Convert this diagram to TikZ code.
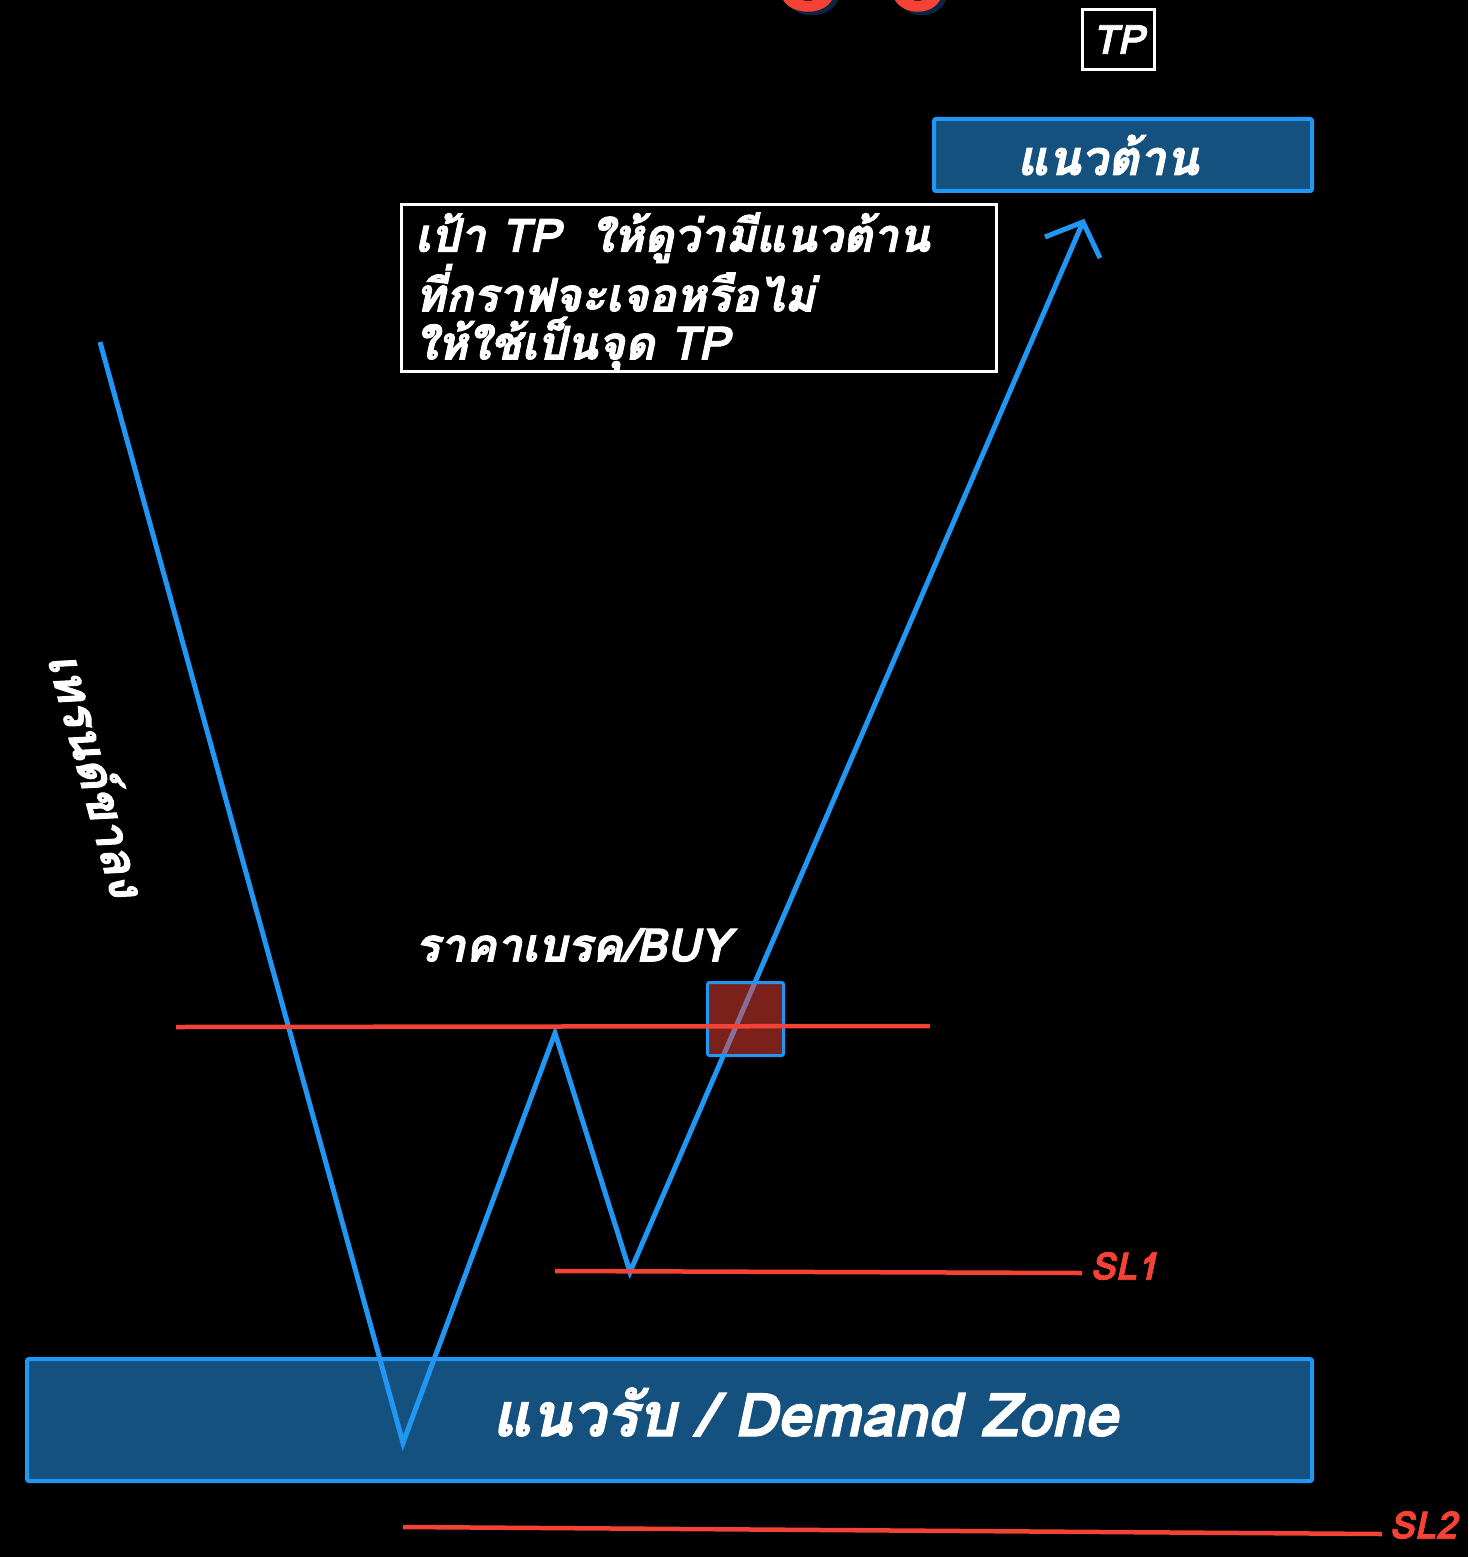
\documentclass[tikz,border=0pt]{standalone}
\usepackage{fontspec}
\newfontfamily\thaifont[Script=Thai, BoldFont={Loma Bold}, BoldItalicFont={Loma Bold Oblique}, ItalicFont={Loma Oblique}, BoldItalicFeatures={FakeBold=2}]{Loma}
\definecolor{bline}{HTML}{2196F3}
\definecolor{zonefill}{HTML}{14517F}
\definecolor{rline}{HTML}{F44336}
\definecolor{shadowblue}{HTML}{0B2545}
\tikzset{
  thtext/.style={text=white, inner sep=0pt, font=\thaifont\bfseries\itshape\fontsize{#1}{#1}\selectfont},
  thtext/.default=44,
  zonebox/.style={draw=bline, fill=zonefill, line width=4pt, rounded corners=2pt},
  priceline/.style={draw=bline, line width=5pt, line join=miter},
  levelline/.style={draw=rline, line width=4.5pt},
  sltext/.style={text=rline, inner sep=0pt, font=\thaifont\bfseries\itshape\fontsize{38}{40}\selectfont},
  wbox/.style={draw=white, line width=3pt, fill=black},
  fragshadow/.style={draw=shadowblue, line width=11pt, line cap=round},
  fragred/.style={draw=rline, line width=11pt, line cap=round},
}
\begin{document}
\begin{tikzpicture}[x=1pt,y=-1pt]
\useasboundingbox (0,0) rectangle (1468,1557);
\fill[black] (0,0) rectangle (1468,1557);

% cut-off title fragments at the very top (descenders of letters above the picture)
\begin{scope}
\clip (0,0) rectangle (1468,1557);
\draw[fragshadow] (790,-6) .. controls (792,14) and (830,16) .. (834,-6);
\draw[fragred] (786,-8) .. controls (788,10) and (826,12) .. (829,-8);
\draw[fragshadow] (902,-6) .. controls (904,14) and (938,16) .. (942,-6);
\draw[fragred] (898,-8) .. controls (900,10) and (934,12) .. (937,-8);
\end{scope}

% TP box
\node[wbox, minimum width=72pt, minimum height=60pt, inner sep=0pt, anchor=north west] (tpbox) at (1081,8) {};
\node[thtext=40] (tplabel) at (tpbox.center) {TP};

% resistance zone
\node[zonebox, minimum width=378pt, minimum height=72pt, inner sep=0pt, anchor=north west] (resist) at (932,117) {};
\node[thtext=48] (resistlabel) at (1108,155) {แนวต้าน};

% note box
\node[wbox, minimum width=595pt, minimum height=167pt, inner sep=0pt, anchor=north west] (note) at (400,203) {};
\node[text=white, inner sep=0pt, font=\thaifont\bfseries\itshape\fontsize{46}{48}\selectfont, align=left, anchor=west] (notetext) at (415,292) {เป้า TP\ \ ให้ดูว่ามีแนวต้าน\\ที่กราฟจะเจอหรือไม่\\ให้ใช้เป็นจุด TP};

% demand zone
\node[zonebox, minimum width=1285pt, minimum height=122pt, inner sep=0pt, anchor=north west] (demand) at (25,1357) {};
\node[thtext=60] (demandlabel) at (805,1412) {แนวรับ / Demand Zone};

% price path
\coordinate (p0) at (100,342);
\coordinate (p1) at (403,1443);
\coordinate (p2) at (555,1033);
\coordinate (p3) at (630,1272);
\coordinate (p4) at (1083,222);
\coordinate (a1) at (1045,237);
\coordinate (a2) at (1100,258);
\draw[priceline] (p0) -- (p1) -- (p2) -- (p3) -- (p4);
\draw[priceline] (a1) -- (p4) -- (a2);

% breakout box
\node[draw=bline, fill=rline, fill opacity=0.5, line width=3pt, rounded corners=2pt, minimum width=76pt, minimum height=73pt, inner sep=0pt, anchor=north west] (breakbox) at (706,981) {};

% level lines
\coordinate (l1a) at (176,1027);
\coordinate (l1b) at (930,1026);
\draw[levelline] (l1a) -- (l1b);
\coordinate (sl1a) at (555,1271);
\coordinate (sl1b) at (1082,1273);
\draw[levelline] (sl1a) -- (sl1b);
\node[sltext, anchor=west] (sl1) at (1090,1266) {SL1};
\coordinate (sl2a) at (403,1527);
\coordinate (sl2b) at (1382,1534);
\draw[levelline] (sl2a) -- (sl2b);
\node[sltext, anchor=east] (sl2) at (1457,1525) {SL2};

% labels
\node[thtext=46, anchor=west] (buylabel) at (415,945) {ราคาเบรค/BUY};
\node[thtext=48, rotate=-75] (trend) at (100,774) {เทรนด์ขาลง};
\end{tikzpicture}
\end{document}
